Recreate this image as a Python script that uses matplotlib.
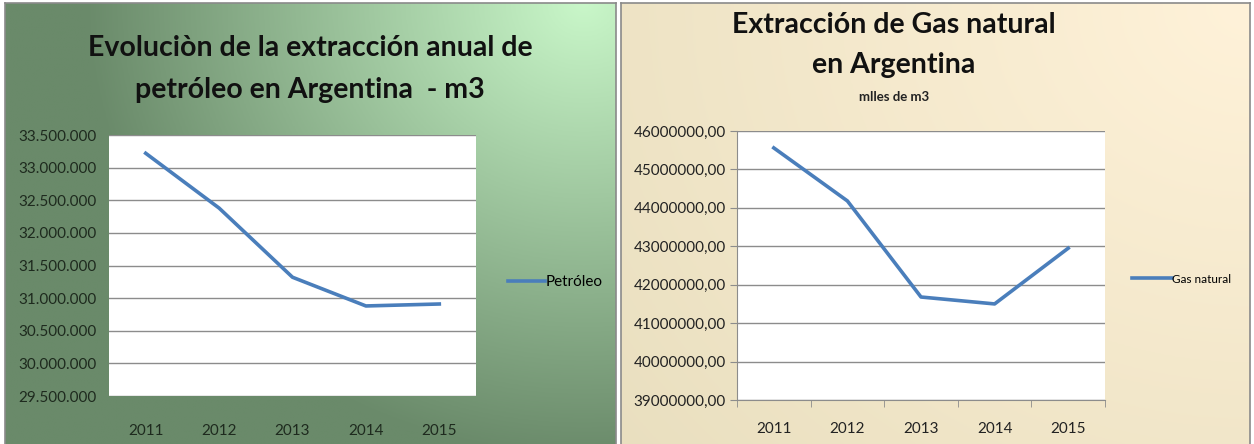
import matplotlib
matplotlib.use("Agg")
import matplotlib.pyplot as plt
import numpy as np
from matplotlib.colors import to_rgb
from matplotlib.ticker import FuncFormatter, FixedLocator

# datos
anios = ["2011", "2012", "2013", "2014", "2015"]
petroleo = [33220000, 32380000, 31320000, 30880000, 30910000]
gas_natural = [45560000, 44180000, 41680000, 41500000, 42950000]

FUENTE = ["Lato", "DejaVu Sans"]
AZUL = "#4a7ebb"
W, H = 1254, 444


def fondo_radial(fig, rect, c_centro, c_borde, centro=(1.0, 1.0), radio=1.2):
    ax = fig.add_axes(rect)
    xx, yy = np.meshgrid(np.linspace(0, 1, 200), np.linspace(0, 1, 200))
    r = np.clip(np.hypot(xx - centro[0], (yy - centro[1]) * 0.8) / radio, 0, 1)
    a, b = np.array(to_rgb(c_centro)), np.array(to_rgb(c_borde))
    img = a[None, None, :] * (1 - r[..., None]) + b[None, None, :] * r[..., None]
    ax.imshow(img, origin="lower", extent=(0, 1, 0, 1), aspect="auto")
    ax.set_xticks([])
    ax.set_yticks([])
    for s in ax.spines.values():
        s.set_color("#8a8a8a")
        s.set_linewidth(1.2)
    return ax


def px(x0, y0, x1, y1):
    # rectángulo en píxeles (origen arriba) -> coordenadas de figura
    return [x0 / W, 1 - y1 / H, (x1 - x0) / W, (y1 - y0) / H]


fig = plt.figure(figsize=(12.54, 4.44), dpi=100)
fig.patch.set_facecolor("white")

fondo_radial(fig, px(5, 3, 616, 446), "#c9f7c9", "#6a8a6a", centro=(0.95, 1.0), radio=0.82)
fondo_radial(fig, px(621, 3, 1250, 446), "#fff2d9", "#e9dfbf", centro=(1.0, 1.0), radio=1.3)

x = np.arange(len(anios))

# ---- petróleo ----
ax1 = fig.add_axes(px(109, 135, 476, 396))
ax1.set_facecolor("white")
ax1.plot(x, petroleo, color=AZUL, lw=2.6, label="Petróleo", solid_joinstyle="round")
ax1.set_xlim(-0.5, 4.5)
ax1.set_ylim(29500000, 33500000)
ax1.yaxis.set_major_locator(FixedLocator(np.arange(29500000, 33500001, 500000)))
ax1.yaxis.set_major_formatter(FuncFormatter(lambda v, p: f"{int(v):,}".replace(",", ".")))
ax1.set_xticks(x)
ax1.set_xticklabels(anios)
ax1.grid(axis="y", color="#8c8c8c", lw=1)
ax1.set_axisbelow(True)
for s in ax1.spines.values():
    s.set_visible(False)
ax1.tick_params(axis="both", length=0, labelsize=11, labelcolor="#1e2a1e")
ax1.tick_params(axis="y", pad=9)
ax1.tick_params(axis="x", pad=20)
for t in ax1.get_xticklabels() + ax1.get_yticklabels():
    t.set_family(FUENTE)
fig.text(310 / W, 1 - 48 / H, "Evoluciòn de la extracción anual de", ha="center", va="center",
         fontsize=20.5, fontweight="bold", family=FUENTE, color="#111")
fig.text(310 / W, 1 - 90 / H, "petróleo en Argentina  - m3", ha="center", va="center",
         fontsize=20.5, fontweight="bold", family=FUENTE, color="#111")
ax1.legend(loc="center left", bbox_to_anchor=(502 / W, 1 - 282 / H), bbox_transform=fig.transFigure,
           frameon=False, handlelength=2.4, handletextpad=0.05, borderaxespad=0,
           prop={"family": FUENTE, "size": 11})

# ---- gas natural ----
ax2 = fig.add_axes(px(737, 131, 1105, 400))
ax2.set_facecolor("white")
ax2.plot(x, gas_natural, color=AZUL, lw=2.6, label="Gas natural", solid_joinstyle="round")
ax2.set_xlim(-0.5, 4.5)
ax2.set_ylim(39000000, 46000000)
ax2.yaxis.set_major_locator(FixedLocator(np.arange(39000000, 46000001, 1000000)))
ax2.yaxis.set_major_formatter(FuncFormatter(lambda v, p: f"{int(v)},00"))
ax2.set_xticks(x)
ax2.set_xticklabels(anios)
ax2.set_xticks(np.arange(-0.5, 5, 1), minor=True)
ax2.grid(axis="y", color="#8c8c8c", lw=1)
ax2.set_axisbelow(True)
for k in ("top", "right"):
    ax2.spines[k].set_visible(False)
for k in ("left", "bottom"):
    ax2.spines[k].set_color("#8c8c8c")
ax2.tick_params(axis="y", length=5, color="#8c8c8c", labelsize=11, labelcolor="#222", pad=3)
ax2.tick_params(axis="x", which="major", length=0, labelsize=11, labelcolor="#222", pad=16)
ax2.tick_params(axis="x", which="minor", length=5, color="#8c8c8c")
for t in ax2.get_xticklabels() + ax2.get_yticklabels():
    t.set_family(FUENTE)
fig.text(894 / W, 1 - 25 / H, "Extracción de Gas natural", ha="center", va="center",
         fontsize=20.5, fontweight="bold", family=FUENTE, color="#111")
fig.text(894 / W, 1 - 65 / H, "en Argentina", ha="center", va="center",
         fontsize=20.5, fontweight="bold", family=FUENTE, color="#111")
fig.text(894 / W, 1 - 97 / H, "mlles de m3", ha="center", va="center",
         fontsize=9.5, fontweight="bold", family=FUENTE, color="#222")
ax2.legend(loc="center left", bbox_to_anchor=(1127 / W, 1 - 279 / H), bbox_transform=fig.transFigure,
           frameon=False, handlelength=3.4, handletextpad=0.05, borderaxespad=0,
           prop={"family": FUENTE, "size": 8.5})

fig.savefig("out.png", dpi=100)
